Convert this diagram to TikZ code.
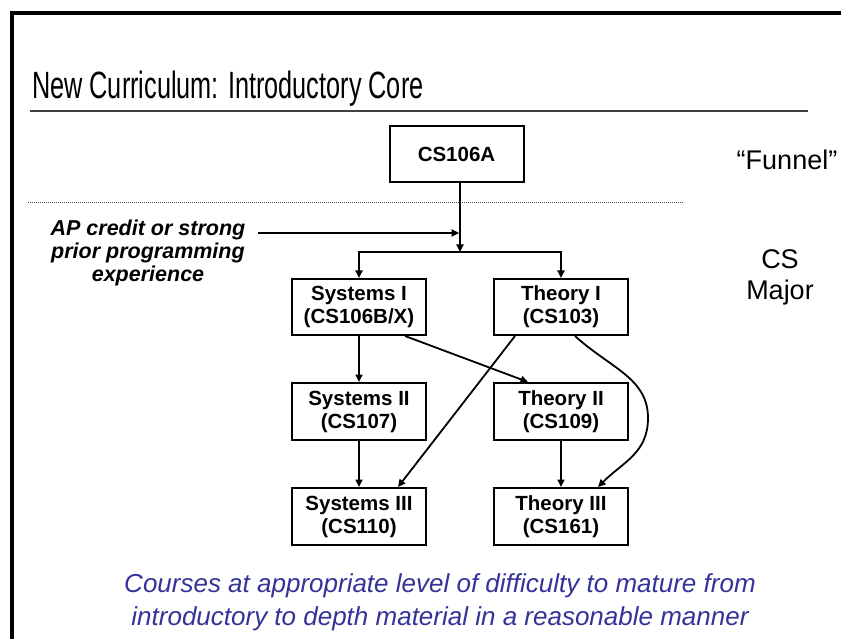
\documentclass[tikz,border=0pt]{standalone}
\usepackage{graphicx}
\usepackage{fontspec}
\setmainfont{Liberation Sans}
\usetikzlibrary{arrows.meta,positioning}
\definecolor{notecol}{RGB}{51,51,153}

\begin{document}
\begin{tikzpicture}[x=1pt,y=-1pt,line join=miter,
  course/.style={draw,line width=2pt,minimum width=134pt,minimum height=56pt,inner sep=0pt,align=center,font=\fontsize{20.5}{23}\selectfont\bfseries},
  link/.style={line width=1.8pt,-{Triangle[length=7.5pt,width=7pt]}},
  side/.style={align=center,font=\fontsize{27}{31}\selectfont}]
\path[use as bounding box] (0,0) rectangle (841,639);
% slide frame, title and rules
\draw[line width=4pt] (12,639)--(12,13)--(841,13);
\node[anchor=base west,inner sep=0pt] (title) at (32,99) {\scalebox{0.665}[1]{\fontsize{38}{42}\selectfont New Curriculum: Introductory Core}};
\draw[line width=1.5pt,black!75] (30,111)--(808,111);
\draw[line width=1pt,black!70,dash pattern=on 1pt off 1pt] (28,203)--(683,203);
% courses
\node[course] (cs106a) at (456.5,154) {CS106A};
\node[course] (sys1) at (359,307) {Systems I\\(CS106B/X)};
\node[course] (theo1) at (561,307) {Theory I\\(CS103)};
\node[course,minimum height=57pt] (sys2) at (359,411.5) {Systems II\\(CS107)};
\node[course,minimum height=57pt] (theo2) at (561,411.5) {Theory II\\(CS109)};
\node[course,minimum height=57pt] (sys3) at (359,516.5) {Systems III\\(CS110)};
\node[course,minimum height=57pt] (theo3) at (561,516.5) {Theory III\\(CS161)};
% side labels
\node[align=center,font=\fontsize{21.5}{23}\selectfont\bfseries\itshape] (ap) at (148,253) {AP credit or strong\\prior programming\\experience};
\node[side] (funnel) at (787,160) {``Funnel''};
\node[side] (major) at (780,277) {CS\\Major};
\node[align=center,text=notecol,font=\fontsize{26}{33}\selectfont\itshape] (note) at (440,602) {Courses at appropriate level of difficulty to mature from\\introductory to depth material in a reasonable manner};
% prerequisite arrows
\coordinate (split) at (460,252);
\coordinate (aptail) at (258,233);
\draw[link] (cs106a.south -| split)--(split);
\draw[link,shorten >=0.8pt] (aptail)--(aptail -| split);
\draw[link] (split) -| (sys1.north);
\draw[link] (split) -| (theo1.north);
\draw[link] (sys1)--(sys2);
\draw[link] (sys2)--(sys3);
\draw[link] (theo2)--(theo3);
\draw[link] ([xshift=46pt]sys1.south)--([xshift=-33pt]theo2.north);
\draw[link] ([xshift=-46pt]theo1.south)--([xshift=39pt]sys3.north);
\coordinate (bend) at (648,418);
\draw[link] ([xshift=14pt]theo1.south) .. controls +(35,32) and +(0,-40) .. (bend) .. controls +(0,35) and +(25,-25) .. ([xshift=37pt]theo3.north);
\end{tikzpicture}
\end{document}
